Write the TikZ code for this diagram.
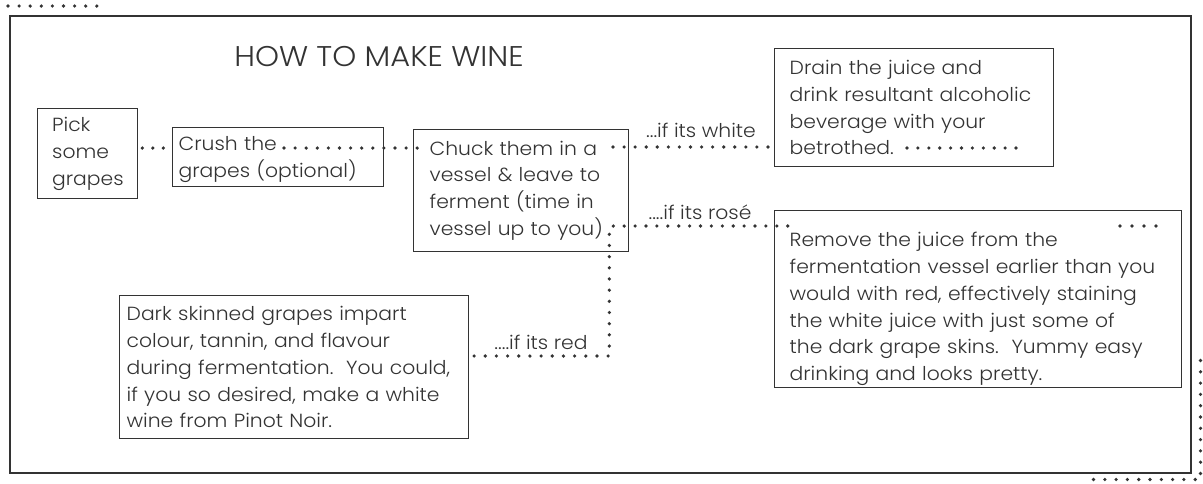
\documentclass[tikz,border=0pt]{standalone}
\usepackage{fontspec}
\setmainfont{Poppins Light}[FakeStretch=1.07]
\usetikzlibrary{calc}
\definecolor{ink}{HTML}{333333}
\newcommand{\boxfont}{\fontsize{19}{26.8}\selectfont}
\newcommand{\titlefont}{\fontsize{28.5}{32}\selectfont}
\tikzset{
  box/.style={draw=ink, line width=1.3pt, anchor=north west, align=left,
    inner ysep=0pt, text=ink, font=\boxfont},
  dotline/.style={ink, line width=3.6pt, line cap=round, dash pattern=on 0pt off #1},
  dotline/.default=11pt,
  lbl/.style={text=ink, font=\boxfont, inner sep=0pt}
}
\begin{document}
\begin{tikzpicture}[x=1pt,y=-1pt]
\useasboundingbox (0,0) rectangle (1203,483);
\fill[white] (0,0) rectangle (1203,483);
% frame
\node[draw=ink, line width=1.5pt, anchor=north west, minimum width=1181pt, minimum height=457pt, inner sep=0pt] (frame) at (9,15) {};
\node[text=ink, font=\titlefont, inner sep=0pt] (title) at (379,57) {HOW TO MAKE WINE};
% boxes
\node[box, minimum width=100pt, minimum height=90pt, inner xsep=14pt, text width=71pt] (pick) at (37,108) {Pick\\some\\grapes};
\node[box, minimum width=211pt, minimum height=59pt, inner xsep=5pt, text width=199pt] (crush) at (172,127) {\rule{0pt}{19pt}Crush the\\grapes (optional)};
\node[box, minimum width=215pt, minimum height=122pt, inner xsep=15pt, text width=183pt] (chuck) at (413,129) {Chuck them in a\\vessel \& leave to\\ferment (time in\\vessel up to you)};
\node[box, minimum width=279pt, minimum height=118pt, inner xsep=14pt, text width=249pt] (drain) at (774,48) {Drain the juice and\\drink resultant alcoholic\\beverage with your\\betrothed.};
\node[box, minimum width=407pt, minimum height=177pt, inner xsep=14pt, text width=377pt] (remove) at (774,210) {\rule{0pt}{34pt}Remove the juice from the\\fermentation vessel earlier than you\\would with red, effectively staining\\the white juice with just some of\\the dark grape skins.\ \ Yummy easy\\drinking and looks pretty.};
\node[box, minimum width=349pt, minimum height=143pt, inner xsep=6pt, text width=335pt] (dark) at (119,295) {Dark skinned grapes impart\\colour, tannin, and flavour\\during fermentation.\ \ You could,\\if you so desired, make a white\\wine from Pinot Noir.};
% labels
\node[lbl] (lwhite) at (701,130) {...if its white};
\node[lbl] (lrose) at (700,212) {....if its ros\'e};
\node[lbl] (lred) at (541,342) {....if its red};
% connectors
\draw[dotline=10.5pt] ($(pick.north east)+(4,40)$) -- ($(crush.north west)+(-6,21)$);
\draw[dotline=11.1pt] ($(crush.north west)+(112,21)$) -- ($(chuck.north west)+(10.5,19)$);
\draw[dotline=11.07pt] ($(chuck.north west)+(200,18)$) -- ($(drain.north west)+(-5.5,99)$);
\draw[dotline=10.9pt] ($(drain.north west)+(133,100)$) -- ($(drain.north west)+(251.5,100)$);
\draw[dotline=10.9pt] ($(chuck.north east)+(-16,97)$) -- ($(remove.north west)+(23.5,16)$);
\draw[dotline=12pt] ($(remove.north west)+(346,16)$) -- ($(remove.north west)+(382.5,16)$);
\draw[dotline=11.17pt] ($(chuck.south east)+(-20,-18)$) |- ($(dark.north east)+(-5.5,61)$);
% loose dots round the frame
\draw[dotline=11.1pt] ($(frame.north west)+(-1,-9)$) -- ($(frame.north west)+(88.5,-9)$);
\draw[dotline=11.3pt] ($(frame.south east)+(9,-113)$) |- ($(frame.south east)+(-105.5,6)$);
\end{tikzpicture}
\end{document}
